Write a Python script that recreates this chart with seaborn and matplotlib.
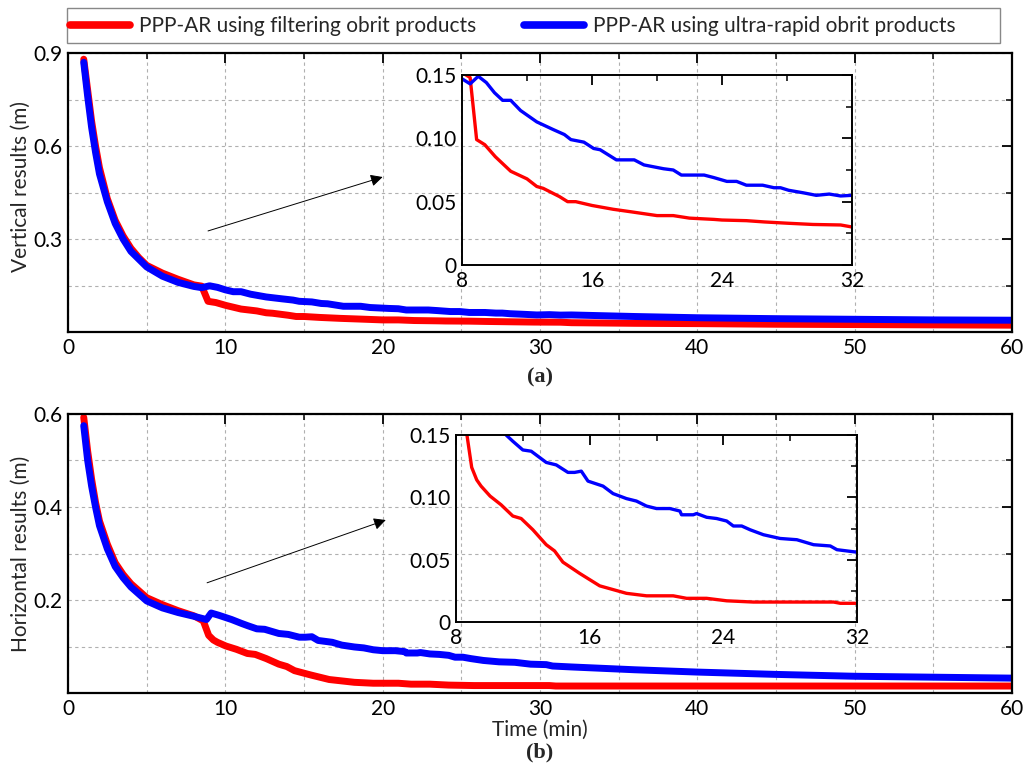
import numpy as np
import matplotlib
matplotlib.use("Agg")
import matplotlib.pyplot as plt
from matplotlib.ticker import MultipleLocator, FixedLocator
from matplotlib.patches import Rectangle
import seaborn as sns

# ---- data ----
# (a) vertical, filtering orbit products
t_v_filt = [1, 1.25, 1.5, 1.75, 2, 2.5, 3, 3.5, 4, 4.5, 5, 6, 7, 8, 8.5, 8.9, 9.4,
            10.05, 11, 12, 12.6, 13, 14, 14.5, 15, 16, 17.3, 18.4, 20, 21, 22, 23.5,
            24, 25.5, 26.6, 28, 29.6, 31.3, 32, 36, 40, 45, 50, 55, 60]
v_filt = [0.88, 0.78, 0.68, 0.60, 0.53, 0.43, 0.36, 0.31, 0.27, 0.24, 0.215, 0.19, 0.17,
          0.152, 0.148, 0.099, 0.095, 0.0855, 0.074, 0.068, 0.062, 0.0605, 0.054, 0.050,
          0.050, 0.047, 0.044, 0.042, 0.039, 0.039, 0.037, 0.036, 0.0355, 0.035, 0.034,
          0.033, 0.032, 0.0316, 0.030, 0.028, 0.027, 0.025, 0.024, 0.023, 0.022]
# (a) vertical, ultra-rapid orbit products
t_v_ultra = [1, 1.25, 1.5, 1.75, 2, 2.5, 3, 3.5, 4, 4.5, 5, 6, 7, 8, 8.5, 9, 9.5, 10,
             10.5, 11, 11.6, 12.6, 13.6, 14.3, 14.7, 15.5, 16.1, 16.5, 17.5, 18.6, 19.2,
             20.4, 21, 21.5, 22.9, 23.5, 24.3, 24.9, 25.5, 26.5, 27.2, 27.6, 28.1, 29.0,
             29.8, 30.6, 31.3, 32, 36, 40, 45, 50, 55, 60]
v_ultra = [0.87, 0.76, 0.66, 0.58, 0.51, 0.42, 0.35, 0.30, 0.26, 0.235, 0.21, 0.18, 0.16,
           0.147, 0.143, 0.149, 0.144, 0.136, 0.130, 0.130, 0.122, 0.113, 0.107, 0.103,
           0.099, 0.097, 0.092, 0.091, 0.083, 0.083, 0.079, 0.076, 0.075, 0.071, 0.071,
           0.069, 0.066, 0.066, 0.063, 0.063, 0.061, 0.061, 0.059, 0.057, 0.055, 0.056,
           0.0545, 0.055, 0.050, 0.046, 0.043, 0.041, 0.039, 0.038]

# (b) horizontal, filtering orbit products
t_h_filt = [1, 1.25, 1.5, 1.75, 2, 2.5, 3, 3.5, 4, 5, 6, 7, 8, 8.6, 8.94, 9.24, 9.5,
            10.04, 10.7, 11.4, 11.9, 12.6, 13.4, 13.9, 14.4, 15.4, 16.0, 16.6, 17.4,
            18.2, 19.4, 21, 21.8, 23, 24.2, 25.8, 28.4, 30.6, 31, 32, 40, 50, 60]
h_filt = [0.593, 0.52, 0.46, 0.41, 0.37, 0.32, 0.28, 0.255, 0.235, 0.205, 0.19, 0.177,
          0.166, 0.155, 0.124, 0.114, 0.109, 0.101, 0.094, 0.085, 0.083, 0.074, 0.062,
          0.057, 0.048, 0.039, 0.034, 0.029, 0.026, 0.023, 0.021, 0.021, 0.019, 0.019,
          0.017, 0.016, 0.016, 0.016, 0.015, 0.015, 0.015, 0.015, 0.015]
# (b) horizontal, ultra-rapid orbit products
t_h_ultra = [1, 1.25, 1.5, 1.75, 2, 2.5, 3, 3.5, 4, 5, 6, 7, 8, 8.8, 9.1, 9.6, 10.4,
             11.0, 11.4, 12.0, 12.5, 13.0, 13.4, 14.0, 14.7, 15.1, 15.5, 15.9, 16.8,
             17.4, 18.2, 18.8, 19.4, 20.0, 20.8, 21.4, 21.5, 22.2, 22.4, 23.0, 23.6,
             24.2, 24.6, 25.1, 25.6, 26.4, 27.4, 28.4, 29.4, 30.4, 30.8, 31.4, 32, 36,
             40, 45, 50, 55, 60]
h_ultra = [0.575, 0.50, 0.445, 0.40, 0.36, 0.31, 0.272, 0.248, 0.228, 0.198, 0.183,
           0.173, 0.165, 0.158, 0.172, 0.167, 0.158, 0.15, 0.145, 0.138, 0.137, 0.132,
           0.128, 0.126, 0.120, 0.120, 0.121, 0.113, 0.109, 0.103, 0.099, 0.097, 0.093,
           0.091, 0.091, 0.089, 0.086, 0.086, 0.087, 0.084, 0.083, 0.081, 0.077, 0.077,
           0.074, 0.070, 0.067, 0.066, 0.062, 0.061, 0.058, 0.057, 0.056, 0.050, 0.045,
           0.040, 0.036, 0.034, 0.032]

label_filt = "PPP-AR using filtering obrit products"
label_ultra = "PPP-AR using ultra-rapid obrit products"

sns.set_style("white")
plt.rcParams['font.family'] = ['Lato', 'DejaVu Sans']
FS = 15

W, H = 1032, 771
fig = plt.figure(figsize=(W / 100, H / 100), dpi=100)


def px_axes(left, top, right, bottom):
    # pixel box -> figure fraction
    return [left / W, 1 - bottom / H, (right - left) / W, (bottom - top) / H]


def style_axes(ax, lw=1.6):
    for s in ax.spines.values():
        s.set_visible(True)
        s.set_color("black")
        s.set_linewidth(lw)
    ax.tick_params(which="both", direction="in", top=True, right=True,
                   colors="black", labelsize=FS)
    ax.tick_params(which="major", length=7, width=1.3, pad=4)
    ax.tick_params(which="minor", length=4, width=1.1)


def draw_main(ax, tf, vf, tu, vu, ymax, ystep, with_label=False):
    sns.lineplot(x=tf, y=vf, color="#ff0000", lw=5, ax=ax, sort=False,
                 solid_capstyle="round", label=label_filt if with_label else None)
    sns.lineplot(x=tu, y=vu, color="#0000ff", lw=5, ax=ax, sort=False,
                 solid_capstyle="round", label=label_ultra if with_label else None)
    ax.set_xlim(0, 60)
    ax.set_ylim(0, ymax)
    ax.xaxis.set_major_locator(MultipleLocator(10))
    ax.xaxis.set_minor_locator(MultipleLocator(5))
    ax.yaxis.set_major_locator(FixedLocator(np.arange(ystep, ymax + 1e-9, ystep)))
    ax.yaxis.set_minor_locator(MultipleLocator(ystep / 2))
    ax.grid(True, which="both", color="#b0b0b0", ls=(0, (3, 3)), lw=0.8)
    ax.set_axisbelow(True)
    style_axes(ax)
    if ax.get_legend() is not None:
        ax.get_legend().remove()


def draw_inset(ax, tf, vf, tu, vu):
    sns.lineplot(x=tf, y=vf, color="#ff0000", lw=2.4, ax=ax, sort=False)
    sns.lineplot(x=tu, y=vu, color="#0000ff", lw=2.4, ax=ax, sort=False)
    ax.set_xlim(8, 32)
    ax.set_ylim(0, 0.15)
    ax.set_facecolor("none")
    ax.xaxis.set_major_locator(MultipleLocator(8))
    ax.xaxis.set_minor_locator(MultipleLocator(4))
    ax.yaxis.set_major_locator(FixedLocator([0, 0.05, 0.10, 0.15]))
    ax.yaxis.set_minor_locator(MultipleLocator(0.025))
    ax.set_yticklabels(["0", "0.05", "0.10", "0.15"])
    ax.grid(False)
    style_axes(ax, lw=1.4)
    ax.set_xlabel("")
    ax.set_ylabel("")


# ---- (a) vertical ----
ax1 = fig.add_axes(px_axes(68, 53, 1012, 332))
draw_main(ax1, t_v_filt, v_filt, t_v_ultra, v_ultra, 0.9, 0.3, with_label=True)
ax1.set_ylabel("Vertical results (m)", fontsize=FS)
ax1.yaxis.set_label_coords(-0.039, 0.52)
ax1.annotate("", xy=(20.0, 0.50), xytext=(8.9, 0.326),
             arrowprops=dict(arrowstyle="-|>", color="black", lw=0.7,
                             mutation_scale=18, shrinkA=0, shrinkB=0))

ins1 = fig.add_axes(px_axes(462, 75, 852, 265))
draw_inset(ins1, t_v_filt, v_filt, t_v_ultra, v_ultra)

# ---- (b) horizontal ----
ax2 = fig.add_axes(px_axes(68, 414, 1012, 693))
draw_main(ax2, t_h_filt, h_filt, t_h_ultra, h_ultra, 0.6, 0.2)
ax2.set_ylabel("Horizontal results (m)", fontsize=FS)
ax2.yaxis.set_label_coords(-0.039, 0.5)
ax2.annotate("", xy=(20.2, 0.372), xytext=(8.84, 0.237),
             arrowprops=dict(arrowstyle="-|>", color="black", lw=0.7,
                             mutation_scale=18, shrinkA=0, shrinkB=0))

ins2 = fig.add_axes(px_axes(456, 435, 857, 622))
draw_inset(ins2, t_h_filt, h_filt, t_h_ultra, h_ultra)

fig.text(540 / W, 1 - 730 / H, "Time (min)", ha="center", va="center", fontsize=FS)
fig.text(540 / W, 1 - 377 / H, "(a)", ha="center", va="center", fontsize=16,
         fontweight="bold", family="Liberation Serif")
fig.text(540 / W, 1 - 752 / H, "(b)", ha="center", va="center", fontsize=16,
         fontweight="bold", family="Liberation Serif")

# legend across the top, frame drawn separately
handles, labels = ax1.get_legend_handles_labels()
leg = fig.legend(handles, labels, ncol=2, loc="center left",
                 bbox_to_anchor=(70 / W, 1 - 26 / H), frameon=False, fontsize=FS,
                 handlelength=2.9, handletextpad=0.4, columnspacing=2.3,
                 borderaxespad=0, borderpad=0)
for ln in leg.get_lines():
    ln.set_linewidth(5.5)
    ln.set_solid_capstyle("round")
fig.patches.append(Rectangle((67 / W, 1 - 43 / H), 933 / W, 35 / H,
                             transform=fig.transFigure, fill=False,
                             edgecolor="#888888", lw=1.0))

fig.savefig("out.png", dpi=100)
